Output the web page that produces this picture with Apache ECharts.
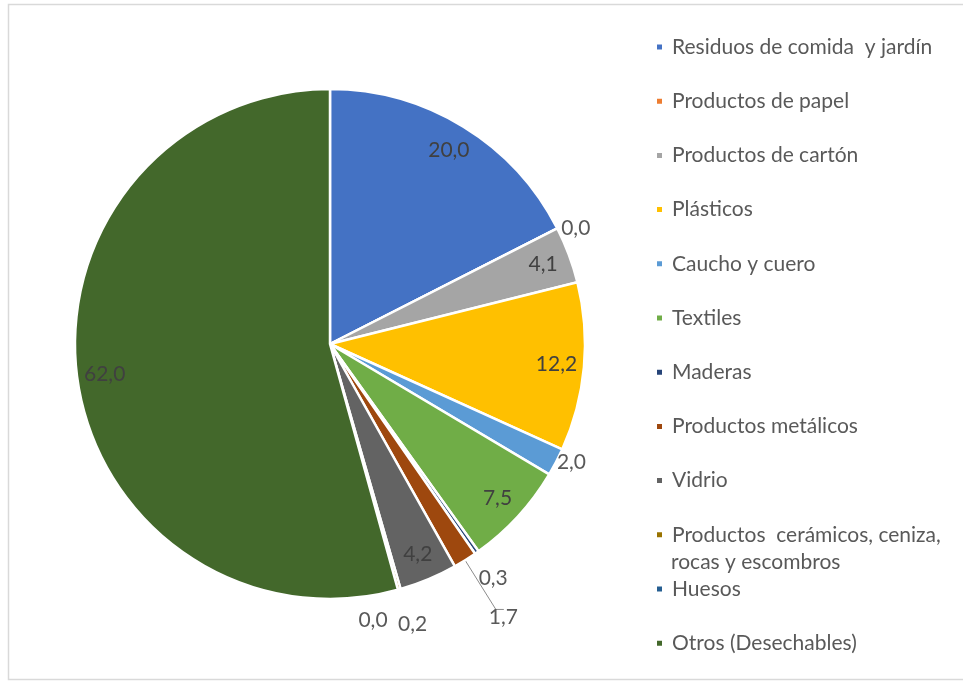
<!DOCTYPE html>
<html>
<head>
<meta charset="utf-8">
<script src="https://cdn.jsdelivr.net/npm/echarts@6/dist/echarts.min.js"></script>
<style>
  html, body { margin: 0; padding: 0; background: #ffffff; }
  #chart { width: 963px; height: 682px; }
</style>
</head>
<body>
<div id="chart"></div>
<script>
// Composition of waste (%), clockwise from 12 o'clock
const categories = [
  'Residuos de comida  y jardín',
  'Productos de papel',
  'Productos de cartón',
  'Plásticos',
  'Caucho y cuero',
  'Textiles',
  'Maderas',
  'Productos metálicos',
  'Vidrio',
  'Productos  cerámicos, ceniza,\nrocas y escombros',
  'Huesos',
  'Otros (Desechables)'
];
const values = [20.0, 0.0, 4.1, 12.2, 2.0, 7.5, 0.3, 1.7, 4.2, 0.2, 0.0, 62.0];

// Office-style palette
const colors = ['#4472C4', '#ED7D31', '#A5A5A5', '#FFC000', '#5B9BD5', '#70AD47',
                '#264478', '#9E480E', '#636363', '#997300', '#255E91', '#43682B'];

// Label placement per slice: inside the slice, or outside with leader settings
const labelPlacement = {
  0: { inside: true }, 2: { inside: true }, 3: { inside: true },
  5: { inside: true }, 8: { inside: true }, 11: { inside: true },
  1: { len: 1, len2: 0, dist: 3 },
  4: { len: 1, len2: 0, dist: 0 },
  6: { len: 31, len2: 0, dist: -16 },
  7: { len: 58, len2: 8, dist: 4, line: true, shift: [-19, 8] },
  9: { len: 36, len2: 0, dist: -11 },
  10: { len: 32, len2: 0, dist: -48 }
};

const FONT = 'Lato';
const CX = 330, CY = 344, R = 255;
const LEGEND_X = 655, LEGEND_TOP = 35, LEGEND_STEP = 54.2;
const fmt = v => v.toFixed(1).replace('.', ',');

const pieData = categories.map((name, i) => ({
  name, value: values[i], itemStyle: { color: colors[i] }
}));

const labelData = categories.map((name, i) => {
  const p = labelPlacement[i];
  const item = { name, value: values[i] };
  if (p.inside) {
    item.label = { position: 'inside', color: '#404040' };
    item.labelLine = { show: false };
  } else {
    item.label = { position: 'outside', color: '#595959', distanceToLabelLine: p.dist };
    item.labelLine = {
      show: !!p.line, length: p.len, length2: p.len2,
      lineStyle: { color: '#8C8C8C', width: 1 }
    };
  }
  return item;
});

// Multi-line names: legend shows the first line next to the marker,
// the remaining line is set underneath it
const legendFirstLine = name => name.split('\n')[0];
const wrapIndex = categories.findIndex(n => n.indexOf('\n') >= 0);

const legendText = { fontFamily: FONT, fontSize: 21, color: '#595959', lineHeight: 24, padding: [0, 0, 0, 4] };
const legendBase = {
  orient: 'vertical', left: LEGEND_X, padding: 0, itemWidth: 7, itemHeight: 7,
  icon: 'rect', itemGap: LEGEND_STEP - 24, selectedMode: false,
  textStyle: legendText, formatter: legendFirstLine
};

const chart = echarts.init(document.getElementById('chart'), null, { renderer: 'canvas' });
chart.setOption({
  animation: false,
  backgroundColor: '#ffffff',
  graphic: [
    {
      type: 'rect', silent: true,
      shape: { x: 8.5, y: 4.5, width: 980, height: 675 },
      style: { fill: 'none', stroke: '#D9D9D9', lineWidth: 1.5 }
    },
    {
      type: 'text', silent: true,
      x: LEGEND_X + 16,
      y: LEGEND_TOP + 12 + LEGEND_STEP * wrapIndex + 27,
      style: {
        text: categories[wrapIndex].split('\n').slice(1).join('\n'),
        fontFamily: FONT, fontSize: 21, fill: '#595959',
        align: 'left', verticalAlign: 'middle'
      }
    }
  ],
  legend: [
    Object.assign({}, legendBase, { top: LEGEND_TOP, data: categories.slice(0, 10) }),
    Object.assign({}, legendBase, { top: LEGEND_TOP + LEGEND_STEP * 10, data: categories.slice(10) })
  ],
  series: [
    {
      type: 'pie',
      center: [CX, CY],
      radius: [0, R],
      startAngle: 90,
      clockwise: true,
      avoidLabelOverlap: false,
      silent: true,
      itemStyle: { borderColor: '#ffffff', borderWidth: 2.5 },
      label: { show: false },
      labelLine: { show: false },
      data: pieData
    },
    {
      // transparent ring carrying the value labels near the rim
      type: 'pie',
      center: [CX, CY],
      radius: [R * 0.76, R],
      startAngle: 90,
      clockwise: true,
      avoidLabelOverlap: false,
      silent: true,
      itemStyle: { color: 'rgba(0,0,0,0)', borderWidth: 0 },
      label: {
        show: true, fontFamily: FONT, fontSize: 21,
        formatter: p => fmt(p.value)
      },
      labelLayout: params => {
        const p = labelPlacement[params.dataIndex];
        return p && p.shift ? { dx: p.shift[0], dy: p.shift[1] } : {};
      },
      data: labelData
    }
  ]
});
</script>
</body>
</html>
